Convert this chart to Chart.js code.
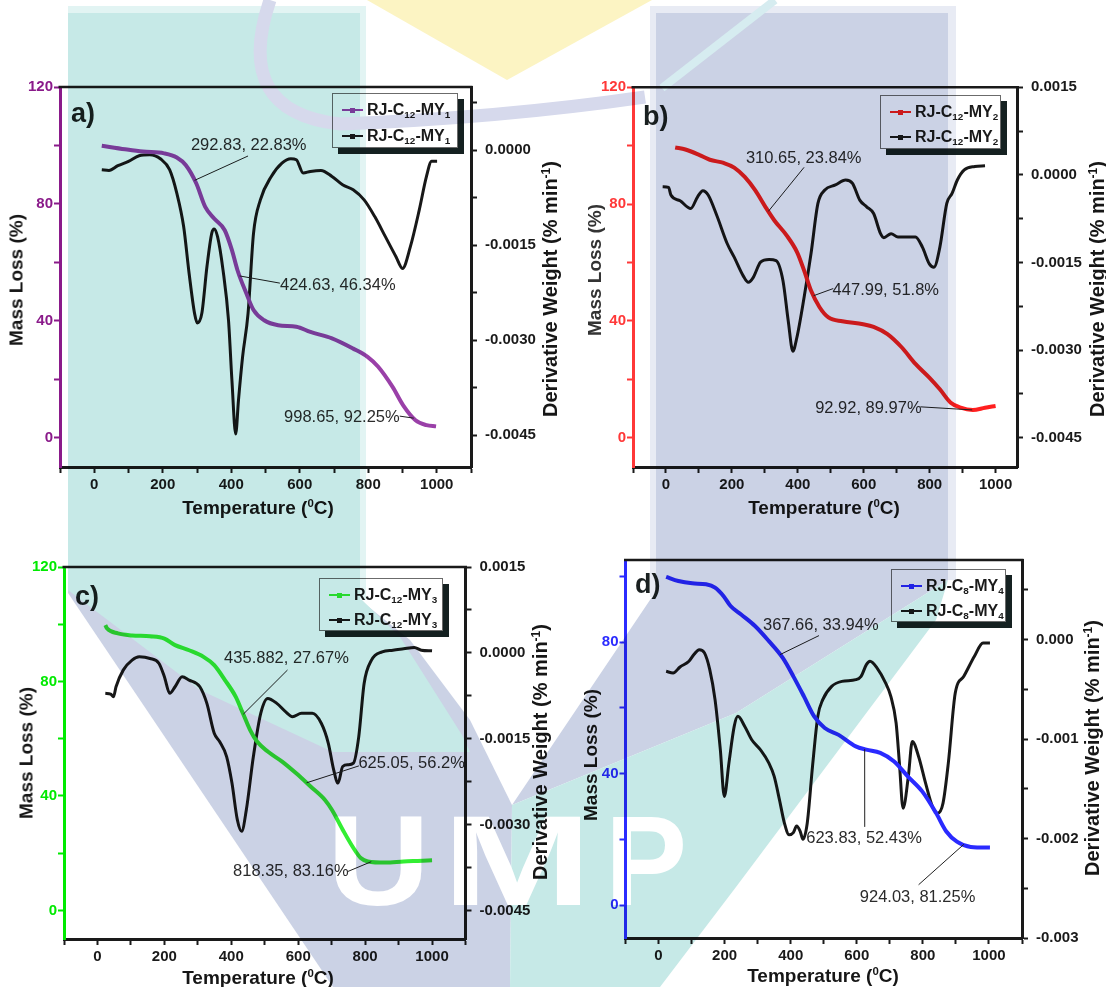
<!DOCTYPE html>
<html lang="en">
<head>
<meta charset="utf-8">
<title>TGA / DTG curves of RJ samples</title>
<script src="https://cdn.jsdelivr.net/npm/chart.js@4.4.1/dist/chart.umd.min.js"></script>
<style>
  html, body { margin:0; padding:0; background:#fff; }
  #page { position:relative; width:1106px; height:987px; overflow:hidden;
          font-family:"Liberation Sans", Arial, Helvetica, sans-serif; }
  #page canvas.plot { position:absolute; left:0; top:0; }
  #wash { position:absolute; left:0; top:0; z-index:10; pointer-events:none; mix-blend-mode:multiply; }
  .ttl { position:absolute; font-weight:bold; white-space:nowrap; color:#161616; line-height:1;
         transform:translate(-50%,-50%); font-size:19px; }
  .ttl.v { transform:translate(-50%,-50%) rotate(-90deg); }
  .ttl.dw { font-size:20px; }
  .tag { position:absolute; font-weight:bold; font-size:27px; line-height:1; color:#1a2020; }
  .lg { position:absolute; box-sizing:border-box; background:#fff; border:1px solid #6b6b6b;
        box-shadow:6px 6px 0 #152121; }
  .lg .row { position:absolute; left:9px; height:20px; display:flex; align-items:center; font-weight:bold;
             font-size:16px; line-height:1; color:#1a1a1a; white-space:nowrap; }
  .lg .sw { position:relative; width:21px; height:2px; margin-right:4px; flex:none; }
  .lg .sw i { position:absolute; left:8px; top:-1.5px; width:5px; height:5px; }
  .lg .lbl { display:inline-block; line-height:1; }
  .lg sub { font-size:0.62em; position:relative; top:0.28em; vertical-align:baseline; line-height:0; }
  sup { font-size:0.6em; vertical-align:0.6em; line-height:0; }
</style>
</head>
<body>
<div id="page">
  <canvas id="chartA" class="plot" width="1106" height="987"></canvas>
  <canvas id="chartB" class="plot" width="1106" height="987"></canvas>
  <canvas id="chartC" class="plot" width="1106" height="987"></canvas>
  <canvas id="chartD" class="plot" width="1106" height="987"></canvas>

  <!-- panel tags -->
  <div class="tag" style="left:71px;top:100px">a)</div>
  <div class="tag" style="left:643px;top:103px">b)</div>
  <div class="tag" style="left:75px;top:583px">c)</div>
  <div class="tag" style="left:635px;top:571px">d)</div>

  <!-- legends -->
  <div class="lg" style="left:332px;top:93px;width:126px;height:55px">
    <div class="row" style="top:6px"><span class="sw" style="background:#9a40a8"><i style="background:#9a40a8"></i></span><span class="lbl">RJ-C<sub>12</sub>-MY<sub>1</sub></span></div>
    <div class="row" style="top:32px"><span class="sw" style="background:#1a1a1a"><i style="background:#1a1a1a"></i></span><span class="lbl">RJ-C<sub>12</sub>-MY<sub>1</sub></span></div>
  </div>
  <div class="lg" style="left:880px;top:95px;width:121px;height:54px">
    <div class="row" style="top:6px"><span class="sw" style="background:#ff1f1f"><i style="background:#ff1f1f"></i></span><span class="lbl">RJ-C<sub>12</sub>-MY<sub>2</sub></span></div>
    <div class="row" style="top:31px"><span class="sw" style="background:#1a1a1a"><i style="background:#1a1a1a"></i></span><span class="lbl">RJ-C<sub>12</sub>-MY<sub>2</sub></span></div>
  </div>
  <div class="lg" style="left:319px;top:578px;width:124px;height:53px">
    <div class="row" style="top:6px"><span class="sw" style="background:#33ee33"><i style="background:#33ee33"></i></span><span class="lbl">RJ-C<sub>12</sub>-MY<sub>3</sub></span></div>
    <div class="row" style="top:31px"><span class="sw" style="background:#1a1a1a"><i style="background:#1a1a1a"></i></span><span class="lbl">RJ-C<sub>12</sub>-MY<sub>3</sub></span></div>
  </div>
  <div class="lg" style="left:891px;top:569px;width:115px;height:53px">
    <div class="row" style="top:6px"><span class="sw" style="background:#2a2aff"><i style="background:#2a2aff"></i></span><span class="lbl">RJ-C<sub>8</sub>-MY<sub>4</sub></span></div>
    <div class="row" style="top:31px"><span class="sw" style="background:#1a1a1a"><i style="background:#1a1a1a"></i></span><span class="lbl">RJ-C<sub>8</sub>-MY<sub>4</sub></span></div>
  </div>

  <!-- axis titles -->
  <div class="ttl" style="left:258px;top:507px">Temperature (<sup>0</sup>C)</div>
  <div class="ttl v" style="left:16px;top:280px">Mass Loss (%)</div>
  <div class="ttl v dw" style="left:550px;top:289px">Derivative Weight (% min<sup>-1</sup>)</div>

  <div class="ttl" style="left:824px;top:507px">Temperature (<sup>0</sup>C)</div>
  <div class="ttl v" style="left:594px;top:270px;color:#333">Mass Loss (%)</div>
  <div class="ttl v dw" style="left:1097px;top:289px">Derivative Weight (% min<sup>-1</sup>)</div>

  <div class="ttl" style="left:258px;top:977px">Temperature (<sup>0</sup>C)</div>
  <div class="ttl v" style="left:26px;top:753px">Mass Loss (%)</div>
  <div class="ttl v dw" style="left:540px;top:752px">Derivative Weight (% min<sup>-1</sup>)</div>

  <div class="ttl" style="left:823px;top:975px">Temperature (<sup>0</sup>C)</div>
  <div class="ttl v" style="left:590px;top:755px">Mass Loss (%)</div>
  <div class="ttl v dw" style="left:1092px;top:748px">Derivative Weight (% min<sup>-1</sup>)</div>

  <canvas id="wash" width="1106" height="987"></canvas>
</div>

<script>
const FONT = '"Liberation Sans", Arial, Helvetica, sans-serif';
Chart.defaults.font.family = FONT;

// ---------- a) RJ-C12-MY1 ----------
const tempMassA = [22,90,142,204,241,267,298,324,350,381,402,418,444,465,496,537,590,631,694,756,798,829,871,902,938,970,998];
const massA     = [99.9,98.7,97.9,97.3,95.9,93.3,87,79,75,71,64.2,57.4,49.4,43.7,40.2,38.5,38,36.2,34,30.5,27.7,24.3,17.4,11.1,6,4.3,3.9];
const tempDtgA  = [22,43,69,100,131,162,194,220,241,261,277,293,301,314,329,343,350,360,376,392,402,413,421,433,449,465,485,517,548,574,590,610,631,662,694,725,756,788,819,850,881,900,923,949,970,985,1001];
const dtgA      = [-0.000306,-0.000317,-0.000243,-0.000174,-0.0000845,-0.0000687,-0.000137,-0.000306,-0.000676,-0.001204,
                   -0.001944,-0.002578,-0.002725,-0.002578,-0.001838,-0.00131,-0.001241,-0.001363,-0.001891,-0.002683,
                   -0.003634,-0.004479,-0.003951,-0.003264,-0.002578,-0.00131,-0.000782,-0.000412,-0.000201,-0.000132,
                   -0.000148,-0.000359,-0.000333,-0.000317,-0.000412,-0.000544,-0.000623,-0.000782,-0.001046,-0.001363,
                   -0.00168,-0.001865,-0.001521,-0.00094,-0.000412,-0.000174,-0.000174];
const noteTextA = ['292.83, 22.83%', '424.63, 46.34%', '998.65, 92.25%'];
const noteAtA   = [292.83, 424.63, 933];

// ---------- b) RJ-C12-MY2 ----------
const tempMassB = [28,59,102,133,175,207,239,271,302,329,366,398,419,440,466,493,535,598,630,672,715,757,799,831,863,894,931,968,1000];
const massB     = [99.4,98.7,96.8,95.2,94.1,92.5,89.3,84.7,79,74.4,69.3,63.5,57.3,50.4,44.7,41.2,39.9,38.9,38,35.5,31,25.3,20.6,16.6,12.1,10.3,9.5,10.3,10.9];
const tempDtgB  = [-10,8,15,43,75,96,112,128,154,186,207,234,250,265,287,313,334,355,371,385,397,419,440,461,482,514,545,566,588,609,630,651,661,683,704,736,757,778,799,813,831,852,868,884,905,937,968];
const dtgB      = [-0.000201,-0.000213,-0.000345,-0.000443,-0.000575,-0.000374,-0.00027,-0.000345,-0.00069,-0.001178,
                   -0.001408,-0.001724,-0.001839,-0.001753,-0.001494,-0.001448,-0.001466,-0.00181,-0.0025,-0.003017,
                   -0.002787,-0.002098,-0.001351,-0.000488,-0.000259,-0.000172,-0.0000862,-0.000144,-0.000431,-0.000546,
                   -0.000661,-0.001006,-0.001075,-0.001006,-0.001063,-0.001063,-0.001063,-0.001236,-0.001523,-0.00158,
                   -0.001236,-0.000488,-0.000316,-0.0000862,0.0000862,0.000144,0.000155];
const noteTextB = ['310.65, 23.84%', '447.99, 51.8%', '92.92, 89.97%'];
const noteAtB   = [310.65, 447.99, 929.2];

// ---------- c) RJ-C12-MY3 ----------
const tempMassC = [23.5,29,61,103.5,157,200,232,274,317,349,381,413,435,456,477,509,552,594,637,680,701,733,765,787,808,861,915,957,1000];
const massC     = [99.7,98.5,96.8,96.1,95.8,95,92.7,90.9,88.6,85.7,80.5,74.7,68.8,63.1,59,55.5,52,47.9,43.3,38.6,35.1,28.2,21.8,18.3,17.1,16.7,17.1,17.3,17.5];
const tempDtgC  = [23.5,39.5,48,55.5,77,103.5,125,157,184,200,216,232,253,274,306,327,349,365,386,402,418,431,445,466,488,509,536,562,583,610,642,669,690,706,719,733,749,765,781,797,819,851,883,915,947,968,1000];
const dtgC      = [-0.000708,-0.00072,-0.000767,-0.000592,-0.000302,-0.000128,-0.0000697,-0.0000987,-0.000186,-0.000418,
                   -0.000708,-0.000592,-0.000418,-0.000476,-0.000592,-0.000883,-0.001405,-0.00155,-0.001812,-0.002276,
                   -0.002915,-0.003118,-0.002741,-0.001812,-0.001057,-0.000796,-0.000883,-0.001028,-0.001115,-0.001057,
                   -0.001057,-0.001231,-0.00158,-0.002044,-0.002276,-0.001986,-0.001957,-0.001928,-0.001463,-0.000534,
                   -0.000128,0.0000174,0.0000465,0.0000697,0.0000929,0.0000465,0.0000348];
const noteTextC = ['435.882, 27.67%', '625.05, 56.2%', '818.35, 83.16%'];
const noteAtC   = [435.882, 625.05, 818.35];

// ---------- d) RJ-C8-MY4 ----------
const tempMassD = [23,60,102,144,171,197,218,250,292,334,376,408,440,471,503,545,597,629,671,713,755,798,840,871,903,945,1003];
const massD     = [99.9,98.6,97.9,97.6,96.6,94,91,88.4,84.9,80.3,75.2,69.6,63.5,57.4,53.9,51.8,48.3,47.3,46.3,43.7,39.1,34.6,28,22.4,19.3,17.7,17.5];
const tempDtgD  = [23,44,65,92,107,123,139,155,171,187,199,213,229,240,261,282,308,334,350,366,381,395,408,418,429,437,450,466,482,497,524,555,597,613,629,640,661,687,703,719,729,740,756,768,787,808,829,845,861,877,898,924,956,982,1003];
const dtgD      = [-0.000319,-0.000336,-0.000275,-0.000218,-0.000151,-0.000101,-0.000134,-0.000302,-0.000604,-0.001107,
                   -0.001577,-0.001242,-0.000873,-0.000772,-0.000873,-0.001007,-0.001107,-0.001242,-0.001376,-0.001611,
                   -0.001846,-0.001963,-0.00194,-0.001873,-0.00193,-0.002007,-0.001846,-0.001275,-0.000772,-0.000604,
                   -0.00047,-0.00042,-0.000403,-0.000369,-0.000252,-0.000218,-0.000285,-0.000436,-0.000571,-0.000839,
                   -0.001242,-0.001695,-0.001376,-0.001024,-0.001175,-0.00144,-0.001678,-0.001745,-0.001644,-0.001242,
                   -0.000537,-0.000369,-0.000168,-0.0000336,-0.0000336];
const noteTextD = ['367.66, 33.94%', '623.83, 52.43%', '924.03, 81.25%'];
const noteAtD   = [367.66, 623.83, 924.03];

// ---------- ticks ----------
const tempTicks       = [-100,0,100,200,300,400,500,600,700,800,900,1000,1100];
const tempTickLabels  = ['','0','','200','','400','','600','','800','','1000',''];
const tempTicksB      = [-100,0,100,200,300,400,500,600,700,800,900,1000];
const tempTickLabelsB = ['','0','','200','','400','','600','','800','','1000'];
const massTicks       = [0,20,40,60,80,100,120];
const massTickLabels  = ['0','','40','','80','','120'];
const massTicksD      = [0,20,40,60,80,100];
const massTickLabelsD = ['0','','40','','80',''];
const dtgTicksA       = [-0.0045,-0.00375,-0.003,-0.00225,-0.0015,-0.00075,0,0.00075];
const dtgTickLabelsA  = ['-0.0045','','-0.0030','','-0.0015','','0.0000',''];
const dtgTicksBC      = [-0.0045,-0.00375,-0.003,-0.00225,-0.0015,-0.00075,0,0.00075,0.0015];
const dtgTickLabelsBC = ['-0.0045','','-0.0030','','-0.0015','','0.0000','','0.0015'];
const dtgTicksD       = [-0.003,-0.0025,-0.002,-0.0015,-0.001,-0.0005,0,0.0005];
const dtgTickLabelsD  = ['-0.003','','-0.002','','-0.001','','0.000',''];

function interp(xs, ys, x) {
  for (let i = 1; i < xs.length; i++) {
    if (x <= xs[i]) {
      const f = (x - xs[i-1]) / (xs[i] - xs[i-1]);
      return ys[i-1] + f * (ys[i] - ys[i-1]);
    }
  }
  return ys[ys.length - 1];
}

// frame top edge + callout labels with leader lines
const panelExtras = {
  id: 'panelExtras',
  afterDatasetsDraw(chart, args, opts) {
    const { ctx, chartArea: a, scales } = chart;
    const xs = scales.x, ys = scales.yMass;
    ctx.save();
    ctx.strokeStyle = '#1a1a1a';
    ctx.lineWidth = 2.5;
    ctx.beginPath();
    ctx.moveTo(a.left - 1.5, a.top);
    ctx.lineTo(a.right + 1.5, a.top);
    ctx.stroke();

    ctx.font = '16.5px ' + FONT;
    ctx.fillStyle = '#2b2b2b';
    ctx.textAlign = 'center';
    ctx.textBaseline = 'middle';
    ctx.strokeStyle = '#202020';
    ctx.lineWidth = 1;
    const n = opts.count;
    for (let i = 0; i < n; i++) {
      const at = opts.at[i];
      const ax = xs.getPixelForValue(at);
      const ay = ys.getPixelForValue(interp(opts.curveT, opts.curveY, at));
      const sx = xs.getPixelForValue(opts.from[i][0]);
      const sy = ys.getPixelForValue(opts.from[i][1]);
      ctx.beginPath();
      ctx.moveTo(sx, sy);
      ctx.lineTo(ax, ay);
      ctx.stroke();
      ctx.fillText(opts.text[i], xs.getPixelForValue(opts.pos[i][0]), ys.getPixelForValue(opts.pos[i][1]));
    }
    ctx.restore();
  }
};

function buildPanel(id, p) {
  const WL = 50, WR = 80, HB = 45;
  const tickFont = { size: 15, weight: 'bold' };
  return new Chart(document.getElementById(id), {
    type: 'line',
    data: {
      datasets: [
        { label: p.name, yAxisID: 'yMass', data: p.massT.map((t, i) => ({ x: t, y: p.mass[i] })),
          borderColor: p.color, borderWidth: 4, pointRadius: 0, fill: false, cubicInterpolationMode: 'monotone' },
        { label: p.name, yAxisID: 'yDtg', data: p.dtgT.map((t, i) => ({ x: t, y: p.dtg[i] })),
          borderColor: '#181818', borderWidth: 3, pointRadius: 0, fill: false, cubicInterpolationMode: 'monotone' }
      ]
    },
    options: {
      responsive: false, animation: false, devicePixelRatio: 1,
      layout: { autoPadding: false,
        padding: { left: p.area.l - WL, right: 1106 - p.area.r - WR, top: p.area.t, bottom: 987 - p.area.b - HB } },
      plugins: {
        legend: { display: false }, tooltip: { enabled: false },
        panelExtras: { count: p.noteText.length, text: p.noteText, at: p.noteAt, from: p.noteFrom, pos: p.notePos,
                       curveT: p.massT, curveY: p.mass }
      },
      scales: {
        x: {
          type: 'linear', position: 'bottom', min: -100, max: p.xMax, bounds: 'data',
          afterBuildTicks: s => { s.ticks = p.xTicks.map(v => ({ value: v })); },
          afterFit: s => { s.height = HB; },
          ticks: { callback: (v, i) => p.xLabels[i], autoSkip: false, maxRotation: 0, padding: 3,
                   color: '#1a1a1a', font: tickFont },
          grid: { drawOnChartArea: false, drawTicks: true, tickLength: 6, tickWidth: 2, tickColor: '#1a1a1a' },
          border: { display: true, color: '#1a1a1a', width: 3 }
        },
        yMass: {
          type: 'linear', position: 'left', min: -10, max: p.massMax, bounds: 'data',
          afterBuildTicks: s => { s.ticks = p.mTicks.map(v => ({ value: v })); },
          afterFit: s => { s.width = WL; },
          ticks: { callback: (v, i) => p.mLabels[i], autoSkip: false, padding: 1, color: p.axisColor, font: tickFont },
          grid: { drawOnChartArea: false, drawTicks: true, tickLength: 6, tickWidth: 2, tickColor: p.axisColor },
          border: { display: true, color: p.axisColor, width: 3 }
        },
        yDtg: {
          type: 'linear', position: 'right', min: p.dMin, max: p.dMax, bounds: 'data',
          afterBuildTicks: s => { s.ticks = p.dTicks.map(v => ({ value: v })); },
          afterFit: s => { s.width = WR; },
          ticks: { callback: (v, i) => p.dLabels[i], autoSkip: false, padding: 8, color: '#1a1a1a', font: tickFont },
          grid: { drawOnChartArea: false, drawTicks: true, tickLength: 6, tickWidth: 2, tickColor: '#1a1a1a' },
          border: { display: true, color: '#1a1a1a', width: 3 }
        }
      }
    },
    plugins: [panelExtras]
  });
}

buildPanel('chartA', {
  name: 'RJ-C12-MY1', color: '#9a40a8', axisColor: '#8a1a8a',
  area: { l: 60, r: 471, t: 87, b: 467 },
  xMax: 1100, xTicks: tempTicks, xLabels: tempTickLabels,
  massMax: 120, mTicks: massTicks, mLabels: massTickLabels,
  dMin: -0.005, dMax: 0.001, dTicks: dtgTicksA, dLabels: dtgTickLabelsA,
  massT: tempMassA, mass: massA, dtgT: tempDtgA, dtg: dtgA,
  noteText: noteTextA, noteAt: noteAtA,
  noteFrom: [[449, 96.4], [542, 52.9], [892, 7.4]],
  notePos:  [[451, 100.1], [711, 52.2], [723, 7.0]]
});

buildPanel('chartB', {
  name: 'RJ-C12-MY2', color: '#ff1f1f', axisColor: '#ff3838',
  area: { l: 633, r: 1017, t: 87.3, b: 467 },
  xMax: 1065, xTicks: tempTicksB, xLabels: tempTickLabelsB,
  massMax: 120, mTicks: massTicks, mLabels: massTickLabels,
  dMin: -0.005, dMax: 0.0015, dTicks: dtgTicksBC, dLabels: dtgTickLabelsBC,
  massT: tempMassB, mass: massB, dtgT: tempDtgB, dtg: dtgB,
  noteText: noteTextB, noteAt: noteAtB,
  noteFrom: [[419, 92.6], [507.6, 51.1], [772, 10.6]],
  notePos:  [[418, 95.7], [667, 50.4], [614, 10.2]]
});

buildPanel('chartC', {
  name: 'RJ-C12-MY3', color: '#33ee33', axisColor: '#00ea00',
  area: { l: 64, r: 465.5, t: 567, b: 939 },
  xMax: 1100, xTicks: tempTicks, xLabels: tempTickLabels,
  massMax: 120, mTicks: massTicks, mLabels: massTickLabels,
  dMin: -0.005, dMax: 0.0015, dTicks: dtgTicksBC, dLabels: dtgTickLabelsBC,
  massT: tempMassC, mass: massC, dtgT: tempDtgC, dtg: dtgC,
  noteText: noteTextC, noteAt: noteAtC,
  noteFrom: [[568, 84], [781.5, 50.5], [748.6, 13.6]],
  notePos:  [[565, 88.2], [939, 51.2], [578, 13.6]]
});

buildPanel('chartD', {
  name: 'RJ-C8-MY4', color: '#2a2aff', axisColor: '#2b2bff',
  area: { l: 625.5, r: 1022, t: 560, b: 938 },
  xMax: 1100, xTicks: tempTicks, xLabels: tempTickLabels,
  massMax: 105, mTicks: massTicksD, mLabels: massTickLabelsD,
  dMin: -0.003, dMax: 0.0008, dTicks: dtgTicksD, dLabels: dtgTickLabelsD,
  massT: tempMassD, mass: massD, dtgT: tempDtgD, dtg: dtgD,
  noteText: noteTextD, noteAt: noteAtD,
  noteFrom: [[485.6, 82], [624, 23.8], [787, 6.2]],
  notePos:  [[491, 85.1], [622, 20.4], [784, 2.2]]
});

// faint university crest printed behind the figure (multiplied over the page)
(function drawWash() {
  const cv = document.getElementById('wash');
  const ctx = cv.getContext('2d');
  const TEAL = '#c6e9e7', TEAL_L = '#e2f4f3', LAV = '#cbd2e5', LAV_L = '#e8ebf4', YEL = '#fcf4c3';
  const poly = (pts, c) => {
    ctx.fillStyle = c; ctx.beginPath();
    pts.forEach((p, i) => i ? ctx.lineTo(p[0], p[1]) : ctx.moveTo(p[0], p[1]));
    ctx.closePath(); ctx.fill();
  };
  ctx.fillStyle = '#fff';
  ctx.fillRect(0, 0, cv.width, cv.height);

  poly([[367, 0], [652, 0], [507, 80]], YEL);

  // right column sweeping down to the left
  poly([[656, 6], [948, 6], [948, 580], [736, 713], [512, 805], [652, 597]], LAV);
  // left sweep
  poly([[68, 588], [360, 600], [410, 640], [470, 720], [512, 805], [510, 987], [333, 987], [68, 593]], LAV);
  // left column
  poly([[68, 6], [360, 6], [362, 600], [400, 637], [462, 735], [470, 752], [333, 752], [200, 690], [68, 590]], TEAL);
  // lower right sweep
  poly([[512, 805], [736, 713], [948, 580], [936, 620], [736, 887], [660, 987], [510, 987]], TEAL);

  ctx.fillStyle = TEAL_L;
  ctx.fillRect(360, 6, 6, 594);
  ctx.fillRect(68, 6, 292, 7);
  ctx.fillStyle = LAV_L;
  ctx.fillRect(650, 6, 6, 591);
  ctx.fillRect(948, 6, 8, 574);
  ctx.fillRect(656, 6, 292, 7);

  // crest arcs
  ctx.lineCap = 'butt';
  ctx.strokeStyle = '#d6d9ec';
  ctx.lineWidth = 13;
  ctx.beginPath();
  ctx.moveTo(270, 0);
  ctx.quadraticCurveTo(232, 112, 340, 124);
  ctx.quadraticCurveTo(500, 118, 645, 97);
  ctx.stroke();
  ctx.strokeStyle = '#d6ecf0';
  ctx.lineWidth = 8;
  ctx.beginPath();
  ctx.moveTo(775, 0);
  ctx.lineTo(662, 88);
  ctx.stroke();

  // crest lettering
  ctx.fillStyle = '#fff';
  ctx.font = 'bold 128px ' + FONT;
  ctx.textBaseline = 'alphabetic';
  const glyph = (ch, x, w) => {
    const m = ctx.measureText(ch).width;
    ctx.save(); ctx.translate(x, 905); ctx.scale(w / m, 1); ctx.fillText(ch, 0, 0); ctx.restore();
  };
  glyph('U', 327, 103);
  glyph('M', 442, 150);
  glyph('P', 605, 82);
})();
</script>
</body>
</html>
